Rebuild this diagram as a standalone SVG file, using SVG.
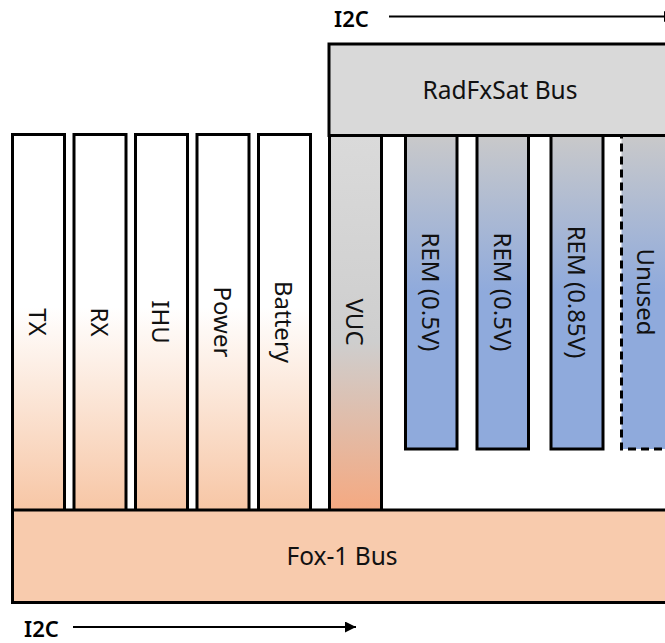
<svg xmlns="http://www.w3.org/2000/svg" width="665" height="643" viewBox="0 0 665 643">
<style>
.box{stroke:#000;stroke-width:3}
.lbl{font-family:"Noto Sans","Open Sans",sans-serif;font-size:24px;fill:#111;text-anchor:middle;dominant-baseline:central}
.bus{font-family:"Noto Sans","Open Sans",sans-serif;font-size:24.5px;fill:#111;text-anchor:middle}
.i2c{font-family:"Noto Sans","Open Sans",sans-serif;font-size:22px;font-weight:600;fill:#000}
.conn{stroke:#000;stroke-width:2;fill:none}
</style>
<defs>
<linearGradient id="gOr" x1="0" y1="0" x2="0" y2="1">
<stop offset="0" stop-color="#ffffff"/>
<stop offset="0.46" stop-color="#ffffff"/>
<stop offset="1" stop-color="#f7c6a5"/>
</linearGradient>
<linearGradient id="gVuc" x1="0" y1="0" x2="0" y2="1">
<stop offset="0" stop-color="#dadada"/>
<stop offset="0.55" stop-color="#cecece"/>
<stop offset="1" stop-color="#f5a981"/>
</linearGradient>
<linearGradient id="gRem" x1="0" y1="0" x2="0" y2="1">
<stop offset="0" stop-color="#c9c9ca"/>
<stop offset="0.5" stop-color="#8faadc"/>
<stop offset="1" stop-color="#8faadc"/>
</linearGradient>
<marker id="arr" viewBox="0 0 10 10" refX="10" refY="5" markerWidth="5.5" markerHeight="5.5" orient="auto" markerUnits="strokeWidth">
<path d="M0,0 L10,5 L0,10 z" fill="#000"/>
</marker>
</defs>

<g id="tx"><rect class="box" x="12.5" y="134.5" width="52" height="376" fill="url(#gOr)"/><text class="lbl" transform="translate(38.5,322) rotate(90)">TX</text></g>
<g id="rx"><rect class="box" x="74" y="134.5" width="52" height="376" fill="url(#gOr)"/><text class="lbl" transform="translate(100,322) rotate(90)">RX</text></g>
<g id="ihu"><rect class="box" x="135.5" y="134.5" width="52" height="376" fill="url(#gOr)"/><text class="lbl" transform="translate(161.5,322) rotate(90)">IHU</text></g>
<g id="power"><rect class="box" x="197" y="134.5" width="52" height="376" fill="url(#gOr)"/><text class="lbl" transform="translate(223,322) rotate(90)">Power</text></g>
<g id="battery"><rect class="box" x="258.5" y="134.5" width="52" height="376" fill="url(#gOr)"/><text class="lbl" transform="translate(284.5,322) rotate(90)">Battery</text></g>

<g id="vuc"><rect class="box" x="329.5" y="135.5" width="52" height="375" fill="url(#gVuc)"/><text class="lbl" transform="translate(355.5,322) rotate(90)">VUC</text></g>
<g id="rem1"><rect class="box" x="405.5" y="135.5" width="51.5" height="313.5" fill="url(#gRem)" stroke-width="2"/><text class="lbl" transform="translate(431,292) rotate(90)">REM (0.5V)</text></g>
<g id="rem2"><rect class="box" x="477" y="135.5" width="51.5" height="313.5" fill="url(#gRem)" stroke-width="2"/><text class="lbl" transform="translate(503,292) rotate(90)">REM (0.5V)</text></g>
<g id="rem3"><rect class="box" x="551" y="135.5" width="52" height="313.5" fill="url(#gRem)" stroke-width="2"/><text class="lbl" transform="translate(577,292) rotate(90)">REM (0.85V)</text></g>
<g id="unused"><rect class="box" x="621.5" y="135.5" width="52" height="313.5" fill="url(#gRem)" stroke-width="2" stroke-dasharray="8 5"/><text class="lbl" transform="translate(646,292) rotate(90)">Unused</text></g>

<g id="radfxsat-bus"><rect class="box" x="329" y="44" width="350" height="91.5" fill="#d9d9d9"/><text class="bus" x="500" y="99">RadFxSat Bus</text></g>
<g id="fox1-bus"><rect class="box" x="12.5" y="510" width="670" height="92.5" fill="#f8cbad"/><text class="bus" x="342" y="565">Fox-1 Bus</text></g>

<g id="i2c-top"><text class="i2c" x="334" y="27">I2C</text></g>
<g id="i2c-bottom"><text class="i2c" x="24" y="637">I2C</text></g>

<g id="connectors">
<line class="conn" x1="389" y1="16.5" x2="675" y2="16.5" marker-end="url(#arr)"/>
<line class="conn" x1="73" y1="627" x2="356" y2="627" marker-end="url(#arr)"/>
</g>
</svg>
